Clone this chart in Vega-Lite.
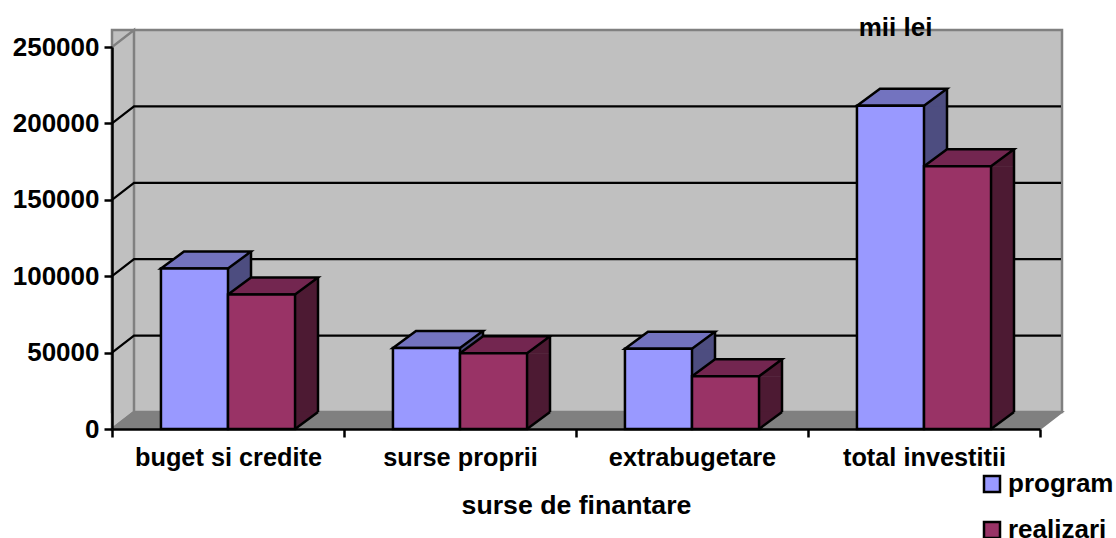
{
 "$schema":"https://vega.github.io/schema/vega-lite/v6.json",
 "width":928,"height":382,
 "autosize":{"type":"none"},
 "padding":{"left":112,"top":47,"right":76,"bottom":109},
 "background":"white",
 "config":{"view":{"stroke":null},"font":"Liberation Sans"},
 "data":{"values":[
  {"sursa":"buget si credite","serie":"program","valoare":105000},
  {"sursa":"buget si credite","serie":"realizari","valoare":88000},
  {"sursa":"surse proprii","serie":"program","valoare":53000},
  {"sursa":"surse proprii","serie":"realizari","valoare":49500},
  {"sursa":"extrabugetare","serie":"program","valoare":52500},
  {"sursa":"extrabugetare","serie":"realizari","valoare":34500},
  {"sursa":"total investitii","serie":"program","valoare":211500},
  {"sursa":"total investitii","serie":"realizari","valoare":172000}
 ]},
 "resolve":{"axis":{"x":"independent","y":"independent"}},
 "layer":[
  {"data":{"values":[{"perete":"spate"}]},
   "mark":{"type":"rect","fill":"#c0c0c0","stroke":"#808080","strokeWidth":2.5,"xOffset":22,"x2Offset":22,"yOffset":-17,"y2Offset":-17},
   "encoding":{"y":{"datum":0,"type":"quantitative","scale":{"domain":[0,250000],"nice":false},"axis":null},"y2":{"datum":250000}}},
  {"data":{"values":[{"perete":"stanga"}]},
   "mark":{"type":"point","shape":"M-464 0 L-442 -17 L-442 -399 L-464 -382 Z","size":4,"filled":true,"opacity":1,"fill":"#c0c0c0","stroke":"#808080","strokeWidth":2.5},
   "encoding":{"y":{"datum":0,"type":"quantitative","axis":null}}},
  {"data":{"values":[{"perete":"podea"}]},
   "mark":{"type":"point","shape":"M-464 0 L-442 -17 L486 -17 L464 0 Z","size":4,"filled":true,"opacity":1,"fill":"#808080","stroke":"#808080","strokeWidth":2},
   "encoding":{"y":{"datum":0,"type":"quantitative","axis":null}}},
  {"data":{"values":[{"nivel":50000},{"nivel":100000},{"nivel":150000},{"nivel":200000}]},
   "mark":{"type":"point","shape":"M-464 0 L-442 -17 L485 -17","size":4,"filled":false,"opacity":1,"stroke":"#000000","strokeWidth":2.2},
   "encoding":{"y":{"field":"nivel","type":"quantitative","axis":null}}},

  {"transform":[{"filter":"datum.serie==='program'"}],
   "mark":{"type":"bar","width":23,"xOffset":11.5,"y2Offset":-17,"fill":"#4d4d80"},
   "encoding":{
    "x":{"field":"sursa","type":"nominal","sort":null,"scale":{"paddingInner":0,"paddingOuter":0},"axis":null},
    "y":{"field":"valoare","type":"quantitative","stack":null,"axis":null},
    "y2":{"datum":0}}},
  {"transform":[{"filter":"datum.serie==='realizari'"}],
   "mark":{"type":"bar","width":23,"xOffset":78.5,"y2Offset":-17,"fill":"#4d1a33"},
   "encoding":{
    "x":{"field":"sursa","type":"nominal","sort":null,"axis":null},
    "y":{"field":"valoare","type":"quantitative","stack":null,"axis":null},
    "y2":{"datum":0}}},
  {"mark":{"type":"point","shape":"M33 0.5 L56.5 -17 L56.5 0.5 Z","size":4,"filled":true,"opacity":1,"strokeWidth":0},
   "encoding":{
    "x":{"field":"sursa","type":"nominal","sort":null,"axis":null},
    "xOffset":{"field":"serie","type":"nominal","scale":{"domain":["program","realizari"],"paddingInner":0,"paddingOuter":0.73}},
    "y":{"field":"valoare","type":"quantitative","stack":null,"axis":null},
    "fill":{"condition":{"test":"datum.serie==='program'","value":"#4d4d80"},"value":"#4d1a33"}}},
  {"mark":{"type":"point","shape":"M33 0 L33 -17.5 L56.5 -17.5 Z","size":4,"filled":true,"opacity":1,"strokeWidth":0},
   "encoding":{
    "x":{"field":"sursa","type":"nominal","sort":null,"axis":null},
    "xOffset":{"field":"serie","type":"nominal"},
    "y":{"datum":0,"type":"quantitative","axis":null},
    "fill":{"condition":{"test":"datum.serie==='program'","value":"#4d4d80"},"value":"#4d1a33"}}},
  {"mark":{"type":"point","shape":"M33.5 0 L56.5 -17","size":4,"filled":false,"opacity":1,"stroke":"#000000","strokeWidth":2.5},
   "encoding":{
    "x":{"field":"sursa","type":"nominal","sort":null,"axis":null},
    "xOffset":{"field":"serie","type":"nominal"},
    "y":{"datum":0,"type":"quantitative","axis":null}}},
  {"transform":[{"filter":"datum.serie==='program'"}],
   "mark":{"type":"rule","stroke":"#000000","strokeWidth":2.5,"xOffset":23,"yOffset":-17,"y2Offset":-17},
   "encoding":{
    "x":{"field":"sursa","type":"nominal","sort":null,"axis":null},
    "y":{"field":"valoare","type":"quantitative","stack":null,"axis":null},
    "y2":{"datum":0}}},
  {"transform":[{"filter":"datum.serie==='realizari'"}],
   "mark":{"type":"rule","stroke":"#000000","strokeWidth":2.5,"xOffset":90,"yOffset":-17,"y2Offset":-17},
   "encoding":{
    "x":{"field":"sursa","type":"nominal","sort":null,"axis":null},
    "y":{"field":"valoare","type":"quantitative","stack":null,"axis":null},
    "y2":{"datum":0}}},
  {"mark":{"type":"point","shape":"M-33.5 0 L-10.5 -17 L56.5 -17 L33.5 0 Z","size":4,"filled":true,"opacity":1,"stroke":"#000000","strokeWidth":2.5},
   "encoding":{
    "x":{"field":"sursa","type":"nominal","sort":null,"axis":null},
    "xOffset":{"field":"serie","type":"nominal"},
    "y":{"field":"valoare","type":"quantitative","stack":null,"axis":null},
    "fill":{"condition":{"test":"datum.serie==='program'","value":"#7373bf"},"value":"#732650"}}},
  {"mark":{"type":"bar","stroke":"#000000","strokeWidth":2.5},
   "encoding":{
    "x":{"field":"sursa","type":"nominal","sort":null,
     "axis":{"title":"surse de finantare","titleFont":"Liberation Sans","titleFontWeight":"bold","titleFontSize":26.7,"titleColor":"#000000","titleY":76,"titleBaseline":"middle",
      "labelFont":"Liberation Sans","labelFontWeight":"bold","labelFontSize":25.3,"labelColor":"#000000","labelAngle":0,"labelPadding":8,"labelLimit":300,
      "tickBand":"extent","tickSize":8,"tickWidth":2.5,"tickColor":"#000000","domainColor":"#000000","domainWidth":2.5,"zindex":1}},
    "xOffset":{"field":"serie","type":"nominal"},
    "y":{"field":"valoare","type":"quantitative","stack":null,
     "axis":{"title":"mii lei","titleFont":"Liberation Sans","titleFontWeight":"bold","titleFontSize":26,"titleColor":"#000000","titleAngle":0,"titleAlign":"center","titleBaseline":"middle","titleX":783,"titleY":-20,
      "values":[0,50000,100000,150000,200000,250000],"format":"d","grid":false,
      "labelFont":"Liberation Sans","labelFontWeight":"bold","labelFontSize":26,"labelColor":"#000000","labelPadding":5,
      "tickSize":8,"tickWidth":2.5,"tickColor":"#000000","domainColor":"#000000","domainWidth":2.5,"zindex":1}},
    "fill":{"field":"serie","type":"nominal","scale":{"domain":["program","realizari"],"range":["#9999ff","#993366"]},
     "legend":{"title":null,"orient":"none","legendX":867,"legendY":424,"symbolType":"square","symbolSize":256,"symbolStrokeWidth":2.5,"symbolStrokeColor":"#000000",
      "labelFont":"Liberation Sans","labelFontWeight":"bold","labelFontSize":26,"labelColor":"#000000","labelOffset":3,"labelLimit":200,"rowPadding":20,"padding":0}}}}
 ]
}
